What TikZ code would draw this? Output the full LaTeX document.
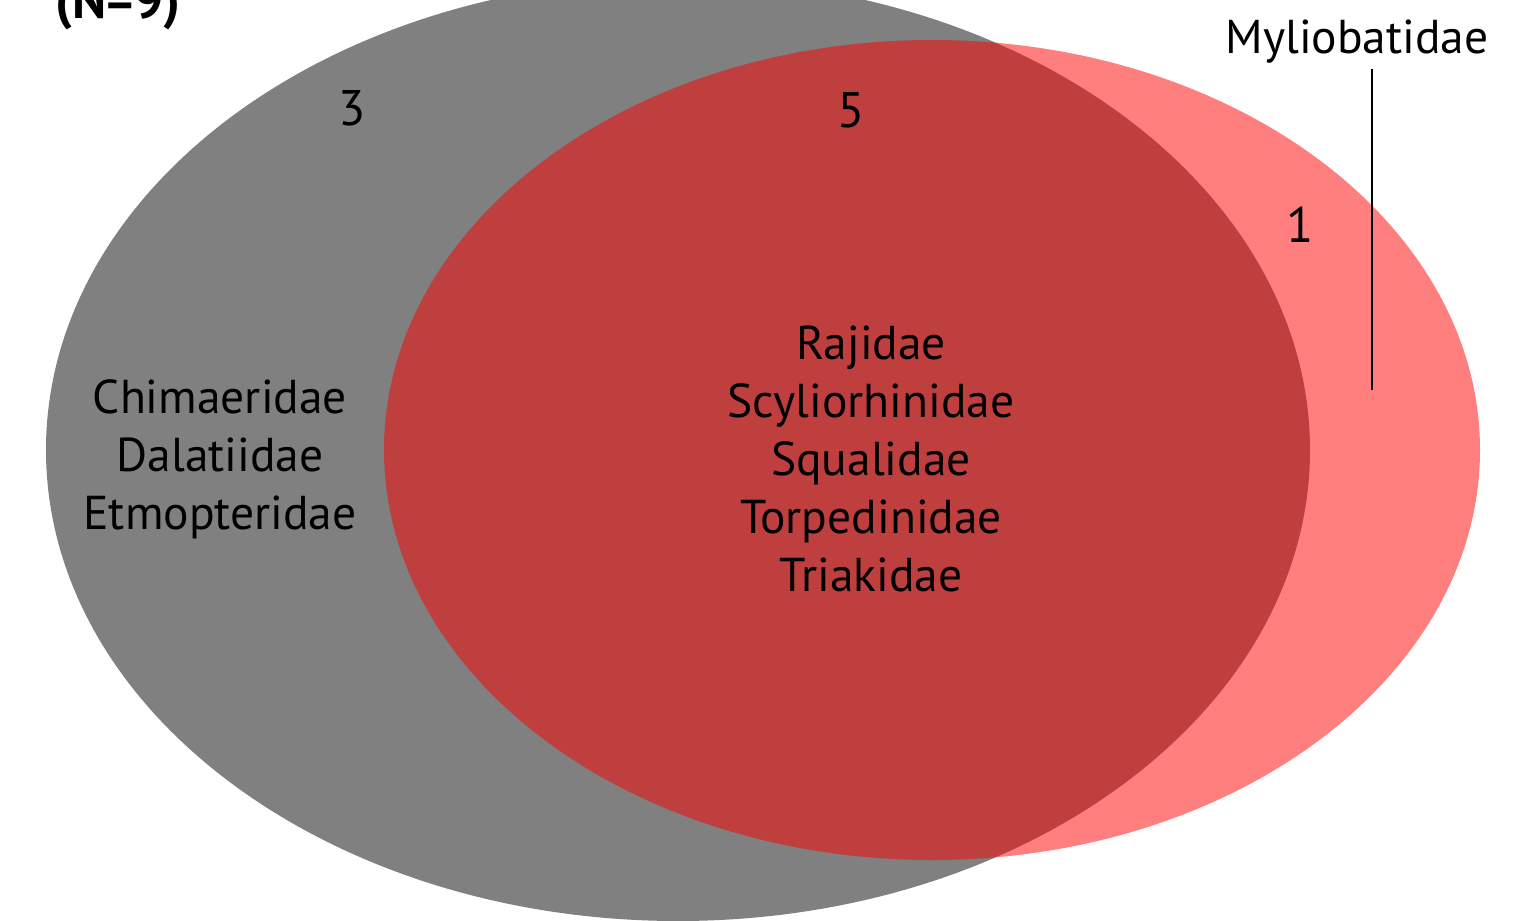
\documentclass[tikz,border=0pt]{standalone}
\usepackage{fontspec}
\setmainfont{PT Sans}
\usepackage{tikz}
\usetikzlibrary{positioning}
\definecolor{setgray}{RGB}{128,128,128}
\definecolor{setred}{RGB}{255,0,0}
\tikzset{
  family/.style={align=center,font=\fontsize{47.5}{58}\selectfont,inner sep=0pt},
  count/.style={font=\fontsize{50}{58}\selectfont,inner sep=0pt},
  leader/.style={black,line width=1.6pt},
}

\begin{document}
\begin{tikzpicture}[x=1pt,y=-1pt]
  \path[use as bounding box] (0,0) rectangle (1513,921);
  \clip (0,0) rectangle (1513,921);

  % the two sets
  \fill[setgray] (678,450) ellipse [x radius=632pt,y radius=471pt];
  \fill[setred,opacity=0.5] (932,450) ellipse [x radius=548pt,y radius=410pt];

  \node[font=\fontsize{52}{58}\selectfont\bfseries,anchor=base,inner sep=0pt] (total) at (118,18) {(N=9)};

  % counts
  \node[count] (ngray) at (352,108) {3};
  \node[count] (nboth) at (851,110) {5};
  \node[count] (nred)  at (1300,225) {1};

  % family lists
  \node[family] (onlygray) at (220,459)
    {Chimaeridae\\Dalatiidae\\Etmopteridae};
  \node[family] (shared) at (871,459)
    {Rajidae\\Scyliorhinidae\\Squalidae\\Torpedinidae\\Triakidae};
  \node[family,inner sep=5pt] (onlyred) at (1357,42) {Myliobatidae};

  \coordinate (leaderend) at (1372,390);
  \draw[leader] (onlyred.south -| leaderend) -- (leaderend);
\end{tikzpicture}
\end{document}
